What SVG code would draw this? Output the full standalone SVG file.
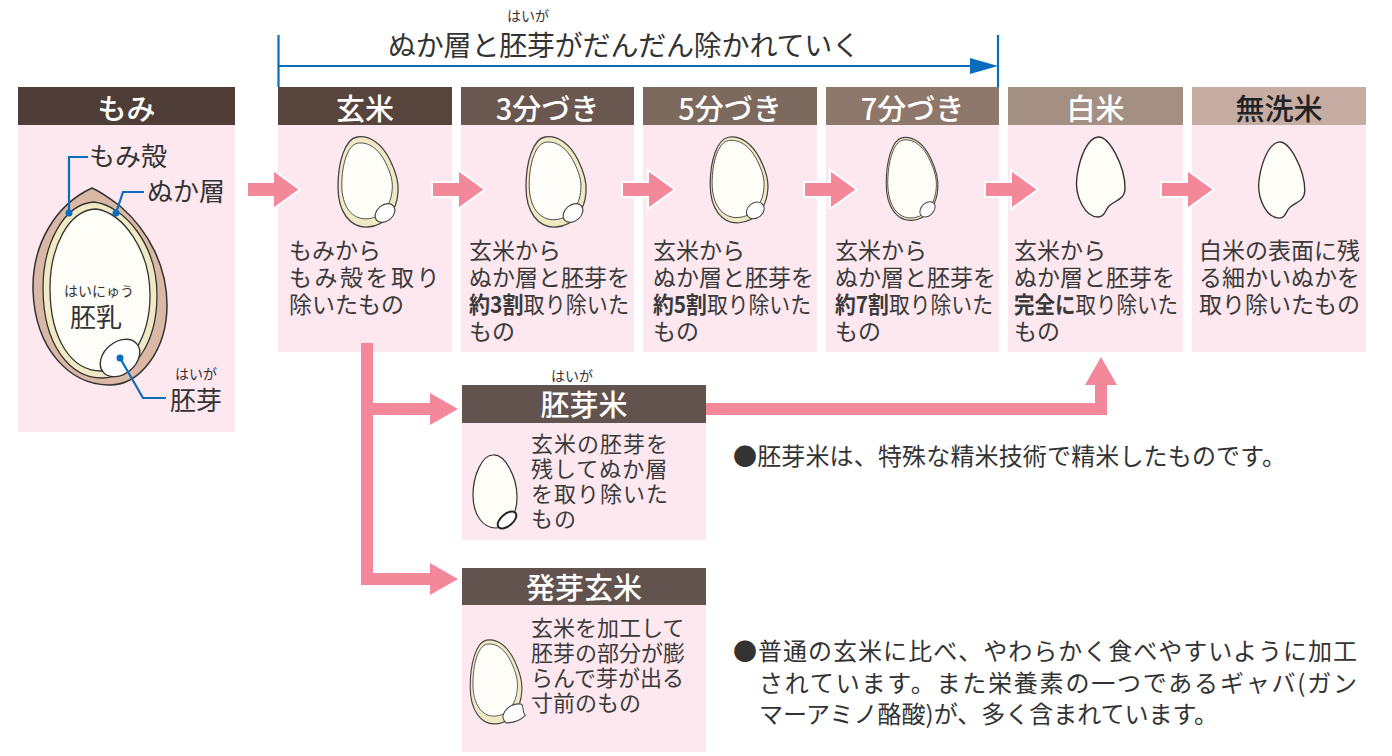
<svg xmlns="http://www.w3.org/2000/svg" xmlns:xlink="http://www.w3.org/1999/xlink" width="1392" height="756" viewBox="0 0 1392 756">
  <style>
    .jp { font-family: "Noto Sans CJK JP", "Noto Sans", sans-serif; }
    .hdr { font-family: "Noto Sans CJK JP", sans-serif; font-size: 29px; font-weight: 500; fill: #ffffff; text-anchor: middle; }
    .body { fill: #fde8f0; }
    .desc { font-family: "Noto Sans CJK JP", sans-serif; font-size: 23px; fill: #3a3a3a; }
    .desc2 { font-family: "Noto Sans CJK JP", sans-serif; font-size: 22px; fill: #3a3a3a; }
    .note { font-family: "Noto Sans CJK JP", sans-serif; font-size: 24px; fill: #333333; }
    .ruby { font-family: "Noto Sans CJK JP", sans-serif; font-size: 14px; fill: #333333; text-anchor: middle; }
    .lbl { font-family: "Noto Sans CJK JP", sans-serif; font-size: 26px; fill: #333333; }
    .flow { fill: #f3889b; stroke: #ffffff; stroke-width: 2; }
    .pinkline { fill: #f3889b; }
    .blue { stroke: #0a6cbd; stroke-width: 2.2; fill: none; }
    .bran { fill: #efeac4; stroke: #444444; stroke-width: 1.3; }
    .kernel { fill: #fffdf8; stroke: #444444; stroke-width: 1.1; }
    .germ { fill: #ffffff; stroke: #444444; stroke-width: 1.1; }
    .polished { fill: #fffdf8; stroke: #333333; stroke-width: 1.4; }
  </style>
  <defs>
    <!-- brown rice grain outline, centred on its own origin -->
    <path id="grain" d="M -11,-45 C 2,-47 14,-38 22,-22 C 28,-10 31,0 30,10 C 29,28 18,44 0,45 C -18,46 -30,30 -30,5 C -30,-20 -23,-43 -11,-45 Z"/>
    <!-- polished (white) rice grain with notch where the germ was -->
    <path id="whiteGrain" d="M -2,-41 C -12,-40 -20,-22 -23,-2 C -26,20 -14,39 -2,39 C 5,39 5,32 9,28 C 15,22 25,22 25,10 C 25,-12 9,-42 -2,-41 Z"/>
    <path id="flowArrow" d="M0,-7.5 H26 V-19.5 L53,0 L26,19.5 V7.5 H0 Z"/>
  </defs>

  <!-- progress bar across the milling stages -->
  <g id="progress">
    <line class="blue" x1="278.5" y1="35" x2="278.5" y2="87"/>
    <line class="blue" x1="998" y1="35" x2="998" y2="87"/>
    <line class="blue" x1="278.5" y1="66" x2="975" y2="66"/>
    <polygon points="970,58 998,66 970,74" fill="#0a6cbd"/>
    <text class="ruby" x="528" y="21" font-size="15">はいが</text>
    <text class="jp" x="388" y="56" font-size="28" fill="#333333" textLength="472" lengthAdjust="spacing">ぬか層と胚芽がだんだん除かれていく</text>
  </g>

  <!-- paddy (もみ) -->
  <g id="node-momi">
    <rect x="18" y="87" width="217" height="38" fill="#4f3d37"/>
    <text class="hdr" x="126.5" y="120">もみ</text>
    <rect class="body" x="18" y="125" width="217" height="307"/>
    <path d="M 92,188 C 99,191 108,197 120,206 C 150,232 167,268 167,305 C 167,350 140,386 108,385 C 70,384 35,350 33,290 C 32,245 55,205 92,188 Z" fill="#d9b8a6" stroke="#333333" stroke-width="1.5"/>
    <path d="M 94,202 C 125,206 157,245 157,295 C 157,345 132,378 102,378 C 70,378 43,345 43,288 C 43,245 63,204 94,202 Z" fill="#efeac4" stroke="#333333" stroke-width="1.3"/>
    <path d="M 96,209 C 123,213 150,250 150,295 C 150,340 127,371 101,371 C 72,371 50,340 50,288 C 50,248 68,210 96,209 Z" fill="#fffdf8" stroke="#333333" stroke-width="1.3"/>
    <ellipse cx="120" cy="358" rx="22" ry="16" transform="rotate(-40 120 358)" fill="#ffffff" stroke="#333333" stroke-width="1.4"/>
    <path class="blue" d="M 88,157 H 69 V 213"/>
    <circle cx="69" cy="213" r="3.5" fill="#0a6cbd"/>
    <path class="blue" d="M 144,192 H 123 L 116,213"/>
    <circle cx="116" cy="213" r="3.5" fill="#0a6cbd"/>
    <path class="blue" d="M 120,358 L 143,398 H 166"/>
    <circle cx="120" cy="358" r="3.5" fill="#0a6cbd"/>
    <text class="lbl" x="89" y="166">もみ殻</text>
    <text class="lbl" x="147" y="201">ぬか層</text>
    <text class="ruby" x="99" y="296" font-size="15">はいにゅう</text>
    <text class="lbl" x="70" y="327" font-size="29">胚乳</text>
    <text class="ruby" x="196" y="379" font-size="15">はいが</text>
    <text class="lbl" x="170" y="410">胚芽</text>
  </g>

  <!-- brown rice (玄米) -->
  <g id="node-genmai">
    <rect x="278" y="87" width="174" height="38" fill="#56443d"/>
    <text class="hdr" x="365" y="120">玄米</text>
    <rect class="body" x="278" y="125" width="174" height="227"/>
    <g transform="translate(368 182)">
      <use xlink:href="#grain" class="bran"/>
      <use xlink:href="#grain" class="kernel" transform="translate(-1 -1) scale(0.84)"/>
      <ellipse class="germ" cx="17" cy="31" rx="11" ry="8" transform="rotate(-40 17 31)"/>
    </g>
    <text class="desc" x="289" y="259">もみから</text>
    <text class="desc" x="289" y="286" letter-spacing="2.5">もみ殻を取り</text>
    <text class="desc" x="289" y="313">除いたもの</text>
  </g>

  <!-- 30% milled (3分づき) -->
  <g id="node-3bu">
    <rect x="461" y="87" width="173" height="38" fill="#6a5850"/>
    <text class="hdr" x="547.5" y="120">3分づき</text>
    <rect class="body" x="461" y="125" width="173" height="227"/>
    <g transform="translate(556 182)">
      <use xlink:href="#grain" class="bran"/>
      <use xlink:href="#grain" class="kernel" transform="translate(-1 -1) scale(0.86)"/>
      <ellipse class="germ" cx="17" cy="31" rx="11" ry="8" transform="rotate(-40 17 31)"/>
    </g>
    <text class="desc" x="469" y="259">玄米から</text>
    <text class="desc" x="469" y="286">ぬか層と胚芽を</text>
    <text class="desc" x="469" y="313" textLength="160" lengthAdjust="spacingAndGlyphs"><tspan font-weight="bold">約3割</tspan>取り除いた</text>
    <text class="desc" x="469" y="340">もの</text>
  </g>

  <!-- 50% milled (5分づき) -->
  <g id="node-5bu">
    <rect x="643" y="87" width="174" height="38" fill="#7d6a5f"/>
    <text class="hdr" x="730" y="120">5分づき</text>
    <rect class="body" x="643" y="125" width="174" height="227"/>
    <g transform="translate(739 180) scale(0.96 0.95)">
      <use xlink:href="#grain" class="bran"/>
      <use xlink:href="#grain" class="kernel" transform="translate(-1 -1) scale(0.9)"/>
      <ellipse class="germ" cx="17" cy="32" rx="10" ry="8" transform="rotate(-40 17 32)"/>
    </g>
    <text class="desc" x="653" y="259">玄米から</text>
    <text class="desc" x="653" y="286">ぬか層と胚芽を</text>
    <text class="desc" x="653" y="313" textLength="158" lengthAdjust="spacingAndGlyphs"><tspan font-weight="bold">約5割</tspan>取り除いた</text>
    <text class="desc" x="653" y="340">もの</text>
  </g>

  <!-- 70% milled (7分づき) -->
  <g id="node-7bu">
    <rect x="826" y="87" width="173" height="38" fill="#8e786c"/>
    <text class="hdr" x="912.5" y="120">7分づき</text>
    <rect class="body" x="826" y="125" width="173" height="227"/>
    <g transform="translate(912 179) scale(0.86 0.92)">
      <use xlink:href="#grain" class="bran" stroke="#111111" stroke-width="2.4"/>
      <use xlink:href="#grain" class="kernel" transform="scale(0.94)"/>
      <ellipse class="germ" cx="18" cy="33" rx="10" ry="7" transform="rotate(-40 18 33)"/>
    </g>
    <text class="desc" x="835" y="259">玄米から</text>
    <text class="desc" x="835" y="286">ぬか層と胚芽を</text>
    <text class="desc" x="835" y="313" textLength="158" lengthAdjust="spacingAndGlyphs"><tspan font-weight="bold">約7割</tspan>取り除いた</text>
    <text class="desc" x="835" y="340">もの</text>
  </g>

  <!-- polished rice (白米) -->
  <g id="node-hakumai">
    <rect x="1008" y="87" width="175" height="38" fill="#a39083"/>
    <text class="hdr" x="1095.5" y="120">白米</text>
    <rect class="body" x="1008" y="125" width="175" height="227"/>
    <use xlink:href="#whiteGrain" class="polished" transform="translate(1100 178)"/>
    <text class="desc" x="1014" y="259">玄米から</text>
    <text class="desc" x="1014" y="286">ぬか層と胚芽を</text>
    <text class="desc" x="1014" y="313" textLength="164" lengthAdjust="spacingAndGlyphs"><tspan font-weight="bold">完全に</tspan>取り除いた</text>
    <text class="desc" x="1014" y="340">もの</text>
  </g>

  <!-- wash-free rice (無洗米) -->
  <g id="node-musenmai">
    <rect x="1192" y="87" width="174" height="38" fill="#c5ada4"/>
    <text class="hdr" x="1279" y="120" style="fill:#222222" font-weight="bold">無洗米</text>
    <rect class="body" x="1192" y="125" width="174" height="227"/>
    <use xlink:href="#whiteGrain" class="polished" transform="translate(1281 181) scale(0.95)"/>
    <text class="desc" x="1199" y="259">白米の表面に残</text>
    <text class="desc" x="1199" y="286">る細かいぬかを</text>
    <text class="desc" x="1199" y="313">取り除いたもの</text>
  </g>

  <!-- germ rice (胚芽米) -->
  <g id="node-haigamai">
    <text class="ruby" x="572" y="381">はいが</text>
    <rect x="462" y="385" width="244" height="38" fill="#62534e"/>
    <text class="hdr" x="584" y="416">胚芽米</text>
    <rect class="body" x="462" y="423" width="244" height="117"/>
    <g transform="translate(495 491)">
      <path d="M -2,-36 C -13,-36 -22,-15 -22,4 C -22,24 -12,37 1,37 C 14,37 22,24 22,6 C 22,-14 10,-37 -2,-36 Z" fill="#fffdf8" stroke="#333333" stroke-width="1.2"/>
      <ellipse cx="12" cy="29" rx="11" ry="6" transform="rotate(-40 12 29)" fill="#ffffff" stroke="#222222" stroke-width="2"/>
    </g>
    <text class="desc2" x="531" y="452" letter-spacing="1">玄米の胚芽を</text>
    <text class="desc2" x="531" y="477" letter-spacing="1">残してぬか層</text>
    <text class="desc2" x="531" y="502" letter-spacing="1">を取り除いた</text>
    <text class="desc2" x="531" y="527" letter-spacing="1">もの</text>
  </g>

  <!-- germinated brown rice (発芽玄米) -->
  <g id="node-hatsuga">
    <rect x="462" y="568" width="244" height="37" fill="#62534e"/>
    <text class="hdr" x="584" y="599">発芽玄米</text>
    <rect class="body" x="462" y="605" width="244" height="147"/>
    <g transform="translate(496 682) scale(0.86 0.93)">
      <use xlink:href="#grain" class="bran"/>
      <use xlink:href="#grain" class="kernel" transform="translate(-1 -2) scale(0.86)"/>
      <path d="M 8,36 C 12,26 22,22 30,24 C 33,28 30,32 34,36 C 30,40 22,44 12,44 C 9,42 8,39 8,36 Z" fill="#ffffff" stroke="#444444" stroke-width="1.2"/>
    </g>
    <text class="desc2" x="531" y="636">玄米を加工して</text>
    <text class="desc2" x="531" y="661">胚芽の部分が膨</text>
    <text class="desc2" x="531" y="686">らんで芽が出る</text>
    <text class="desc2" x="531" y="711">寸前のもの</text>
  </g>

  <!-- notes -->
  <g id="note-haigamai">
    <text class="note" x="733" y="465" textLength="553" lengthAdjust="spacing">●胚芽米は、特殊な精米技術で精米したものです。</text>
  </g>
  <g id="note-hatsuga">
    <text class="note" x="733" y="660" textLength="624" lengthAdjust="spacing">●普通の玄米に比べ、やわらかく食べやすいように加工</text>
    <text class="note" x="759" y="692" textLength="598" lengthAdjust="spacing">されています。また栄養素の一つであるギャバ(ガン</text>
    <text class="note" x="759" y="723">マーアミノ酪酸)が、多く含まれています。</text>
  </g>

  <!-- connectors -->
  <g id="connectors">
    <use xlink:href="#flowArrow" class="flow" transform="translate(247 189.5)"/>
    <use xlink:href="#flowArrow" class="flow" transform="translate(432 189.5)"/>
    <use xlink:href="#flowArrow" class="flow" transform="translate(622 189.5)"/>
    <use xlink:href="#flowArrow" class="flow" transform="translate(804 189.5)"/>
    <use xlink:href="#flowArrow" class="flow" transform="translate(985 189.5)"/>
    <use xlink:href="#flowArrow" class="flow" transform="translate(1161 189.5)"/>
    <!-- branch from brown rice down to germ rice and germinated rice -->
    <path class="pinkline" d="M 361,343 H 373 V 403 H 430 V 393 L 458,409 L 430,425 V 415 H 373 V 573 H 430 V 563 L 458,579 L 430,595 V 585 H 361 Z"/>
    <!-- germ rice up to polished rice -->
    <path class="pinkline" d="M 706,403 H 1095 V 385 H 1085 L 1101,357 L 1117,385 H 1107 V 415 H 706 Z"/>
  </g>
</svg>
